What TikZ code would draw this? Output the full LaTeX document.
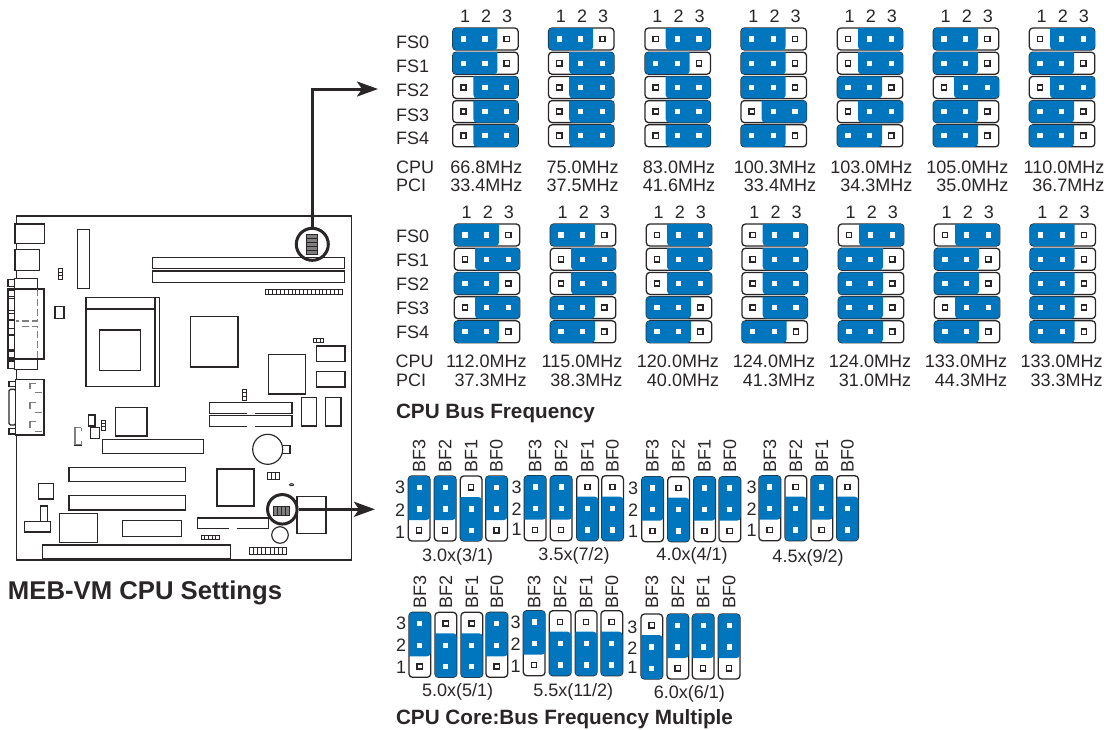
\documentclass[tikz,border=0pt]{standalone}
\usepackage{fontspec}
\setmainfont{Liberation Sans}
\usetikzlibrary{arrows.meta}
\definecolor{jblue}{HTML}{0076BE}
\definecolor{ink}{HTML}{2A2627}
\definecolor{pingray}{HTML}{7F7F7F}
\newcount\lblid
\tikzset{
  txt/.style={inner sep=0pt,outer sep=0pt,text=ink,font=\fontsize{18}{18}\selectfont},
  txtb/.style={inner sep=0pt,outer sep=0pt,text=ink,font=\fontsize{20.7}{21}\selectfont\bfseries},
  jumpbox/.style={draw=ink,line width=1.3,fill=white,rounded corners=3.5},
  part/.style={draw=ink,line width=1.15,fill=white},
  dashpart/.style={draw=pingray,line width=1.15,dash pattern=on 7 off 3},
  pointer/.style={draw=ink,line width=3,-{Stealth[length=21,width=15,inset=5]}},
  ringmark/.style={circle,draw=ink,line width=3,inner sep=0pt}
}
% horizontal jumper: x, y, state (L = pins 1-2 covered, R = pins 2-3)
\newcommand\hjmp[3]{%
  \draw[jumpbox] (#1,#2) rectangle (#1+65.5,#2+22);
  \if#3L
    \fill[jblue,rounded corners=3.5] (#1+44.7,#2) -- (#1,#2) -- (#1,#2+22) -- (#1+44.7,#2+22) [sharp corners] -- cycle;
    \wpin{#1+10.7}{#2+11}\wpin{#1+32.3}{#2+11}\opin{#1+54}{#2+11}
  \else
    \fill[jblue,rounded corners=3.5] (#1+20.7,#2) -- (#1+65.5,#2) -- (#1+65.5,#2+22) -- (#1+20.7,#2+22) [sharp corners] -- cycle;
    \opin{#1+10.7}{#2+11}\wpin{#1+32.3}{#2+11}\wpin{#1+54}{#2+11}
  \fi}
% vertical jumper: x, y, state (U = pins 3-2 covered, D = pins 2-1)
\newcommand\vjmp[3]{%
  \draw[jumpbox] (#1,#2) rectangle (#1+21.7,#2+65);
  \if#3U
    \fill[jblue,rounded corners=3.5] (#1,#2+44) -- (#1,#2) -- (#1+21.7,#2) -- (#1+21.7,#2+44) [sharp corners] -- cycle;
    \wpin{#1+10.8}{#2+11.3}\wpin{#1+10.8}{#2+33}\opin{#1+10.8}{#2+54.3}
  \else
    \fill[jblue,rounded corners=3.5] (#1,#2+21) -- (#1,#2+65) -- (#1+21.7,#2+65) -- (#1+21.7,#2+21) [sharp corners] -- cycle;
    \opin{#1+10.8}{#2+11.3}\wpin{#1+10.8}{#2+33}\wpin{#1+10.8}{#2+54.3}
  \fi}
\newcommand\wpin[2]{\fill[white] (#1-2.6,#2-2.6) rectangle (#1+2.6,#2+2.6);}
\newcommand\opin[2]{\draw[ink,line width=1.5,fill=white] (#1-2.6,#2-2.6) rectangle (#1+2.6,#2+2.6);}
\newcommand\lbl[4]{\global\advance\lblid by 1 \node[txt,anchor=#1] (t\the\lblid) at (#2,#3) {#4};}
\newcommand\lblb[4]{\node[txtb,anchor=base west] (#1) at (#2,#3) {#4};}
% column of five horizontal jumpers: x, y, five states
\newcommand\hcol[7]{%
  \hjmp{#1}{#2}{#3}\hjmp{#1}{#2+24.2}{#4}\hjmp{#1}{#2+48.4}{#5}\hjmp{#1}{#2+72.6}{#6}\hjmp{#1}{#2+96.8}{#7}%
  \lbl{base}{#1+12.3}{#2-6}{1}\lbl{base}{#1+33.5}{#2-6}{2}\lbl{base}{#1+54.5}{#2-6}{3}}
% group of four vertical jumpers
\newcommand\vgrp[6]{%
  \foreach \vx/\vs/\vn in {#3}{\vjmp{\vx}{#1}{\vs}
    \global\advance\lblid by 1
    \node[txt,rotate=90,anchor=base west] (t\the\lblid) at (\vx+17,#2) {\vn};}
  \lbl{base}{#4}{#5}{3}\lbl{base}{#4}{#6}{2}}
% board helpers
\newcommand\bx[4]{\draw[part] (#1,#2) rectangle (#3,#4);}
\newcommand\cellsh[5]{\draw[part,line width=1] (#1,#2) rectangle (#3,#4);
  \foreach \ci in {1,...,#5}{\draw[ink,line width=1] ({#1+(#3-#1)*\ci/#5},#2) -- ({#1+(#3-#1)*\ci/#5},#4);}}
\newcommand\cellsv[5]{\draw[part,line width=1] (#1,#2) rectangle (#3,#4);
  \foreach \ci in {1,...,#5}{\draw[ink,line width=1] (#1,{#2+(#4-#2)*\ci/#5}) -- (#3,{#2+(#4-#2)*\ci/#5});}}
\begin{document}
\begin{tikzpicture}[x=1pt,y=-1pt]
\useasboundingbox (0,0) rectangle (1110,729);
% ---------- FS labels
\foreach \ty/\tt in {48/FS0,72/FS1,96/FS2,121/FS3,144/FS4,242/FS0,266/FS1,290/FS2,314/FS3,338/FS4}{\lbl{base west}{396}{\ty}{\tt}}
\lbl{base west}{396}{173}{CPU}\lbl{base west}{396}{191}{PCI}
\lbl{base west}{395.5}{367}{CPU}\lbl{base west}{396}{386}{PCI}
% ---------- upper table
\hcol{452.7}{28}{L}{L}{R}{R}{R}
\hcol{548.5}{28}{L}{R}{R}{R}{R}
\hcol{645}{28}{R}{L}{R}{R}{R}
\hcol{741}{28}{L}{L}{L}{R}{L}
\hcol{837.3}{28}{R}{R}{L}{R}{L}
\hcol{933.3}{28}{L}{L}{R}{L}{L}
\hcol{1029.3}{28}{R}{L}{R}{L}{L}
\foreach \rx/\ca/\cb in {522.3/66.8/33.4,618.7/75.0/37.5,715/83.0/41.6,816/100.3/33.4,912.3/103.0/34.3,1008.3/105.0/35.0,1104.3/110.0/36.7}{
  \lbl{base east}{\rx}{173}{\ca MHz}\lbl{base east}{\rx}{191}{\cb MHz}}
% ---------- lower table
\hcol{454.3}{224}{L}{R}{L}{R}{L}
\hcol{550.3}{224}{L}{R}{R}{L}{L}
\hcol{646.3}{224}{R}{R}{R}{L}{L}
\hcol{742}{224}{R}{R}{R}{R}{L}
\hcol{838.3}{224}{R}{L}{L}{L}{L}
\hcol{934.3}{224}{R}{L}{L}{R}{L}
\hcol{1030}{224}{L}{L}{L}{L}{L}
\foreach \rx/\ca/\cb in {526.7/112.0/37.3,622.3/115.0/38.3,719/120.0/40.0,815/124.0/41.3,911/124.0/31.0,1007/133.0/44.3,1102.7/133.0/33.3}{
  \lbl{base east}{\rx}{367}{\ca MHz}\lbl{base east}{\rx}{386}{\cb MHz}}
\lblb{busfreq}{396}{418}{CPU Bus Frequency}
% ---------- multiplier jumpers
\vgrp{476}{472.7}{408.3/U/BF3,434.3/U/BF2,460.3/D/BF1,485.7/U/BF0}{400}{493.5}{516}
\lbl{base}{400}{538}{1}
\lbl{base}{457.7}{561}{3.0x(3/1)}
\vgrp{475.7}{472.7}{524.3/U/BF3,550.3/U/BF2,576.7/D/BF1,601.7/D/BF0}{516.7}{493.5}{515}
\lbl{base}{516.7}{535}{1}
\lbl{base}{574}{560}{3.5x(7/2)}
\vgrp{476.7}{472.7}{641.7/U/BF3,667.7/D/BF2,693.7/U/BF1,719/U/BF0}{633}{494}{516}
\lbl{base}{633}{537}{1}
\lbl{base}{692}{560}{4.0x(4/1)}
\vgrp{475.7}{472.7}{759/U/BF3,785/D/BF2,811/U/BF1,836.7/D/BF0}{751.7}{493.5}{515}
\lbl{base}{751.7}{536}{1}
\lbl{base}{808}{562}{4.5x(9/2)}
\vgrp{612.3}{608.3}{409/U/BF3,435/D/BF2,461/D/BF1,486/U/BF0}{401}{629}{651}
\lbl{base}{401}{673}{1}
\lbl{base}{457.7}{696.5}{5.0x(5/1)}
\vgrp{610.7}{608.8}{523.3/U/BF3,549.3/D/BF2,575.3/D/BF1,601/D/BF0}{515.7}{628}{650}
\lbl{base}{515.7}{672}{1}
\lbl{base}{573.3}{696}{5.5x(11/2)}
\vgrp{614}{608.3}{641/D/BF3,667/U/BF2,692.3/U/BF1,718.3/U/BF0}{632.3}{633}{654}
\lbl{base}{632.3}{673}{1}
\lbl{base}{689.3}{698}{6.0x(6/1)}
\lblb{coremult}{396}{724}{CPU Core:Bus Frequency Multiple}
\node[txt,anchor=base west,font=\fontsize{25.7}{26}\selectfont\bfseries] (boardtitle) at (8,599) {MEB-VM CPU Settings};
% ---------- motherboard
\draw[part] (16.5,216) rectangle (351.7,560);
\bx{15}{224}{44.3}{243.3}
\bx{15}{249.3}{39.7}{270.7}
\cellsv{58}{268.7}{62.3}{279.3}{3}
\bx{77.7}{229.7}{89.7}{288.3}
\bx{152.7}{257.3}{344.3}{268.3}
\bx{152.7}{271}{344.7}{282.3}
\cellsh{265}{289}{342.3}{294.7}{20}
% serial connector
\bx{8}{279.7}{14.7}{286.3}
\bx{8}{289}{14.7}{359}
\foreach \sa/\sb in {290/296.7,298.3/310.3,313.3/320,328.3/334.3,335/350,351/357.7}{\bx{8}{\sa}{14.7}{\sb}}
\bx{8}{361}{14.7}{368.3}
\bx{14.7}{278.3}{37.3}{289}
\bx{14.7}{359}{37.3}{369.7}
\bx{14.7}{289}{44}{359}
\draw[dashpart] (37.3,289) -- (37.3,321) -- (16,321);
\draw[dashpart] (22,326.7) -- (37.3,326.7) -- (37.3,359);
\bx{55}{306.7}{64}{318.3}
% CPU socket
\bx{86}{297.7}{159.3}{386.3}
\draw[ink,line width=1.15] (86,309) -- (155,309);
\draw[ink,line width=1.15] (155,297.7) -- (155,386.3);
\bx{99.3}{330}{140.3}{370.3}
% parallel connector
\bx{9}{381.7}{15.7}{386.7}
\draw[part,rounded corners=1.5] (9,389.3) rectangle (15.7,425);
\bx{9}{428.3}{15.7}{434}
\bx{15.7}{379.3}{44}{435}
\foreach \py in {383.3,402.7,421.7}{
  \draw[pingray,line width=1.15] (36,\py) -- (30,\py) -- (30,\py+6);
  \draw[pingray,line width=1.15] (35,\py+9.5) -- (41.5,\py+9.5);}
% middle parts
\bx{115.7}{407.7}{147}{436}
\bx{88.3}{415}{95}{426}
\bx{90.7}{427.3}{99.3}{438.3}
\cellsv{101.7}{420}{105.7}{430}{3}
\draw[pingray,line width=1.15] (81,427.6) -- (75,427.6) -- (75,444.5) -- (81.3,444.5) -- (81.3,441) (81.3,431) -- (81.3,427.6);
\draw[ink,line width=.8] (74,445) -- (81.7,445);
\bx{102.7}{439.3}{203.3}{453.3}
\bx{69}{467.3}{185.3}{481.7}
\bx{69}{495.7}{185.3}{510}
\bx{38.3}{483.7}{53.3}{499}
\bx{40.7}{506}{47.7}{521.3}
\bx{24.3}{521.3}{50.3}{532}
\bx{59.7}{513.3}{97.7}{542.3}
\bx{122.3}{520.3}{181.7}{536.7}
\bx{42.7}{545}{230.7}{558.3}
\bx{190.3}{316.7}{238}{367}
\cellsh{313}{338.3}{323.7}{342.3}{3}
\bx{316.3}{346}{345}{361.3}
\bx{316.3}{371.7}{345}{387}
\bx{268.3}{354.3}{305.7}{394}
\cellsv{242.7}{389.3}{246.7}{400}{3}
% slots with a gap
\bx{209.7}{402.7}{292}{413.3}
\bx{209.7}{415.3}{292}{426.3}
\fill[white] (247.3,412) rectangle (255,414.3);
\fill[white] (247.3,425) rectangle (255,427.3);
\bx{301.3}{397.7}{316.7}{426}
\bx{325.7}{397.7}{341}{426}
\draw[part] (282.7,445.3) rectangle (290,453.3);
\node[circle,draw=ink,line width=1.15,fill=white,minimum size=30pt,inner sep=0pt] (battery) at (267.7,449.3) {};
\cellsh{267.7}{472.3}{279.7}{479}{3}
\draw[part,line width=1] (291.6,484.7) ellipse (2 and 1);
\bx{217}{469}{254}{506}
\bx{197.3}{518}{268.7}{528.3}
\fill[white] (229,527) rectangle (236.7,529.3);
\cellsh{201.3}{535}{219.3}{539.3}{5}
\bx{297}{496.7}{326}{533.3}
\node[circle,draw=ink,line width=1.15,fill=white,minimum size=16.6pt,inner sep=0pt] (cap) at (280,535) {};
\cellsh{249.3}{547.7}{286.7}{554.3}{9}
% rings, headers and pointers
\node[ringmark,minimum size=32pt] (fsring) at (312.3,244.3) {};
\fill[pingray] (306,234.3) rectangle (317,254.3);
\foreach \cy in {0,...,5}{\draw[ink,line width=.9] (306,234.3+\cy*4) -- (317,234.3+\cy*4);}
\draw[ink,line width=.9] (306,234.3) rectangle (317,254.3);
\node[ringmark,minimum size=29.5pt] (bfring) at (282.3,509.3) {};
\fill[pingray] (273.3,506) rectangle (289,515.3);
\foreach \cx in {0,...,4}{\draw[ink,line width=.9] (273.3+\cx*3.92,506) -- (273.3+\cx*3.92,515.3);}
\draw[ink,line width=.9] (273.3,506) rectangle (289,515.3);
\coordinate (fstip) at (378,89);
\coordinate (bftip) at (375,509.3);
\draw[pointer] (fsring.north) |- (fstip);
\draw[pointer] (bfring.east) -- (bftip);
\end{tikzpicture}
\end{document}
